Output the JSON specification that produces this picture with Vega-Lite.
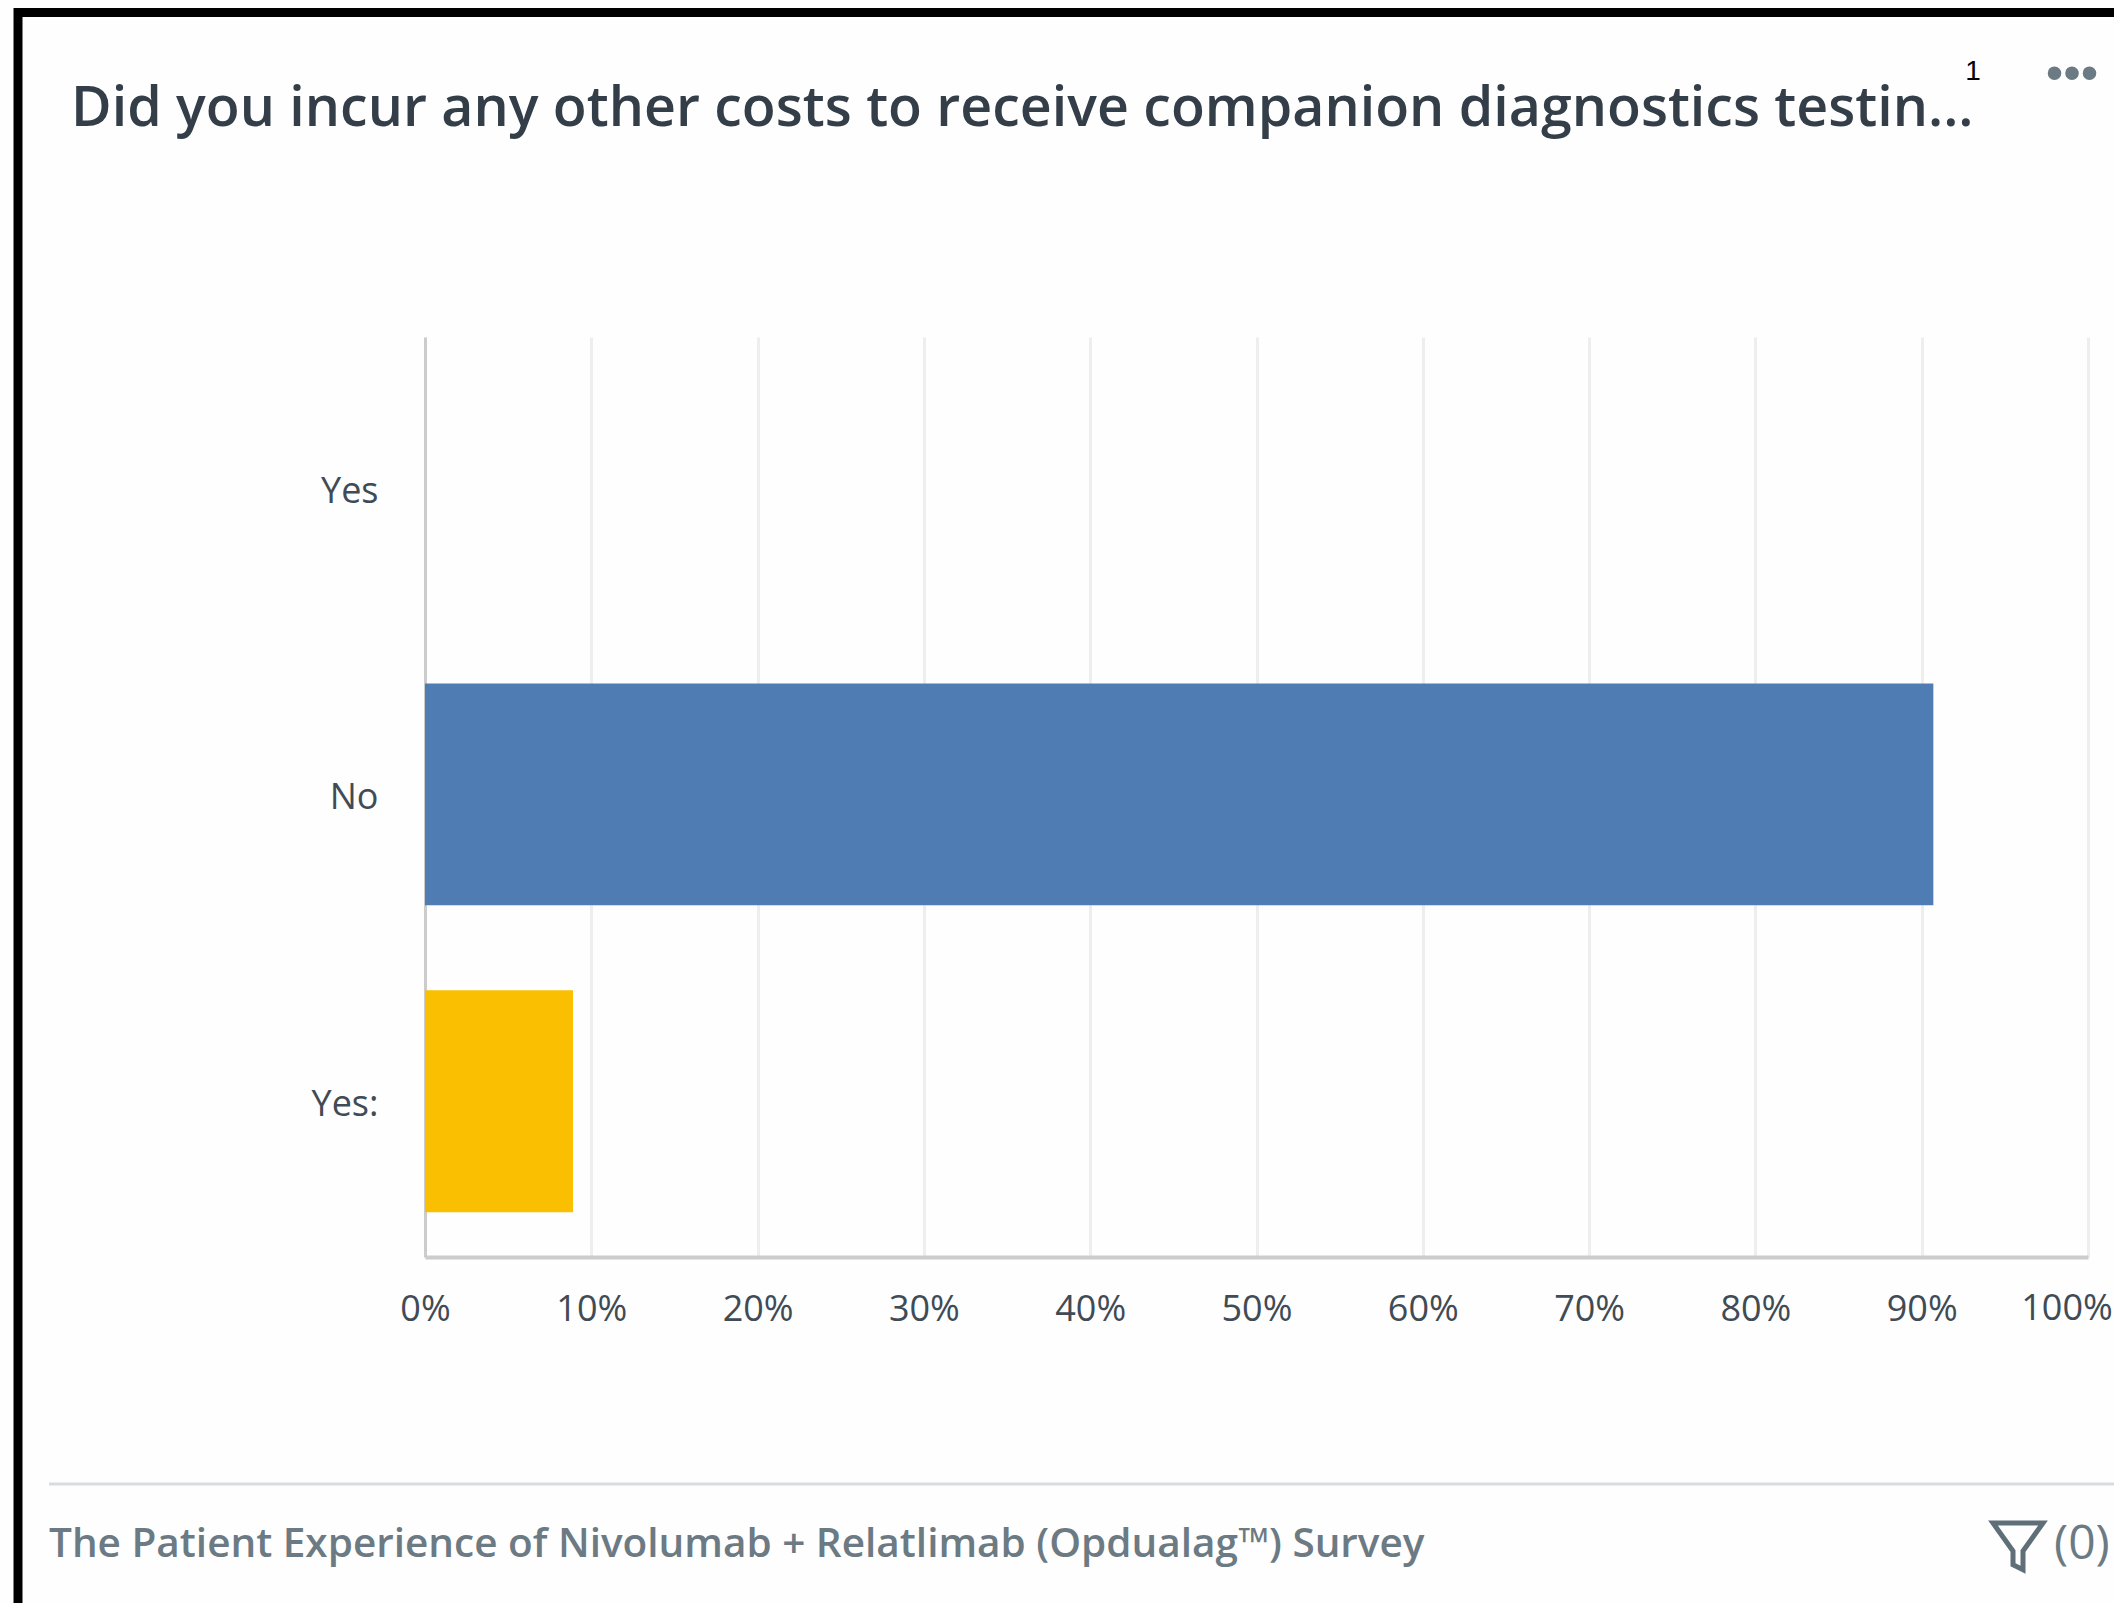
{
  "$schema": "https://vega.github.io/schema/vega-lite/v6.json",
  "width": 1663,
  "height": 920,
  "autosize": {"type": "none"},
  "padding": {"left": 425, "top": 337, "right": 26, "bottom": 346},
  "background": "#fefefe",
  "config": {"view": {"stroke": null}},
  "layer": [
    {
      "data": {
        "values": [
          {"answer": "Yes", "percent": 0},
          {"answer": "No", "percent": 90.7},
          {"answer": "Yes:", "percent": 8.9}
        ]
      },
      "mark": {"type": "bar"},
      "encoding": {
        "y": {
          "field": "answer",
          "type": "nominal",
          "sort": ["Yes", "No", "Yes:"],
          "scale": {"paddingInner": 0.277, "paddingOuter": 0.138, "align": 0.47},
          "axis": {
            "title": null,
            "ticks": false,
            "domainColor": "#cccccc",
            "domainWidth": 3,
            "grid": false,
            "labelFont": "Open Sans",
            "labelFontSize": 36,
            "labelColor": "#404b55",
            "labelPadding": 47,
            "labelOffset": 4
          }
        },
        "x": {
          "field": "percent",
          "type": "quantitative",
          "scale": {"domain": [0, 100], "nice": false},
          "axis": {
            "title": null,
            "values": [0, 10, 20, 30, 40, 50, 60, 70, 80, 90, 100],
            "labelExpr": "datum.value === 100 ? '' : datum.value + '%'",
            "ticks": false,
            "domainColor": "#cccccc",
            "domainWidth": 4,
            "grid": true,
            "gridColor": "#eeeeee",
            "gridWidth": 3,
            "labelFont": "Open Sans",
            "labelFontSize": 36,
            "labelColor": "#404b55",
            "labelPadding": 35,
            "labelOverlap": false,
            "labelFlush": false,
            "labelBound": false
          }
        },
        "color": {
          "field": "answer",
          "type": "nominal",
          "legend": null,
          "scale": {
            "domain": ["Yes", "No", "Yes:"],
            "range": ["#3b9c9c", "#507cb4", "#fabf00"]
          }
        }
      }
    },
    {
      "data": {"values": [{"label": "100%", "percent": 100}]},
      "mark": {"type": "text", "align": "center", "baseline": "top", "dx": -21, "font": "Open Sans", "fontSize": 36, "fill": "#404b55"},
      "encoding": {
        "text": {"field": "label"},
        "x": {"field": "percent", "type": "quantitative"},
        "y": {"value": 955}
      }
    },
    {
      "data": {"values": [{"part": "frame top"}]},
      "mark": {"type": "rule", "stroke": "#000000", "strokeWidth": 9},
      "encoding": {
        "x": {"value": -411},
        "x2": {"value": 1689},
        "y": {"value": -324.5},
        "y2": {"value": -324.5}
      }
    },
    {
      "data": {"values": [{"part": "frame left"}]},
      "mark": {"type": "rule", "stroke": "#000000", "strokeWidth": 9},
      "encoding": {
        "x": {"value": -407},
        "x2": {"value": -407},
        "y": {"value": -329},
        "y2": {"value": 1266}
      }
    },
    {
      "data": {"values": [{"part": "footer divider"}]},
      "mark": {"type": "rule", "stroke": "#d9dcde", "strokeWidth": 3},
      "encoding": {
        "x": {"value": -376},
        "x2": {"value": 1689},
        "y": {"value": 1147},
        "y2": {"value": 1147}
      }
    },
    {
      "data": {"values": [{"label": "Did you incur any other costs to receive companion diagnostics testin..."}]},
      "mark": {"type": "text", "align": "left", "baseline": "alphabetic", "font": "Open Sans", "fontSize": 55.5, "fontWeight": 600, "fill": "#333e48"},
      "encoding": {"text": {"field": "label"}, "x": {"value": -354}, "y": {"value": -211}}
    },
    {
      "data": {"values": [{"label": "The Patient Experience of Nivolumab + Relatlimab (Opdualag™) Survey"}]},
      "mark": {"type": "text", "align": "left", "baseline": "alphabetic", "font": "Open Sans", "fontSize": 40.5, "fontWeight": 600, "fill": "#6b7a83"},
      "encoding": {"text": {"field": "label"}, "x": {"value": -376}, "y": {"value": 1220}}
    },
    {
      "data": {"values": [{"label": "(0)"}]},
      "mark": {"type": "text", "align": "left", "baseline": "alphabetic", "font": "Open Sans", "fontSize": 48, "fontWeight": 500, "fill": "#6b7a83"},
      "encoding": {"text": {"field": "label"}, "x": {"value": 1629}, "y": {"value": 1222}}
    },
    {
      "data": {"values": [{"label": "•••"}]},
      "mark": {"type": "text", "align": "center", "baseline": "middle", "font": "Liberation Sans", "fontSize": 50, "fill": "#6b7a83"},
      "encoding": {"text": {"field": "label"}, "x": {"value": 1647}, "y": {"value": -262}}
    },
    {
      "data": {"values": [{"label": "1"}]},
      "mark": {"type": "text", "align": "center", "baseline": "middle", "font": "Liberation Sans", "fontSize": 28, "fill": "#000000"},
      "encoding": {"text": {"field": "label"}, "x": {"value": 1548}, "y": {"value": -265}}
    },
    {
      "data": {"values": [{"part": "filter icon"}]},
      "mark": {
        "type": "point",
        "filled": false,
        "stroke": "#5f6f78",
        "strokeWidth": 5,
        "size": 2500,
        "opacity": 1,
        "shape": "M -1 -0.92 L 1 -0.92 L 0.2 0.2 L 0.2 0.95 L -0.2 0.75 L -0.2 0.2 Z"
      },
      "encoding": {"x": {"value": 1593}, "y": {"value": 1209}}
    }
  ]
}
